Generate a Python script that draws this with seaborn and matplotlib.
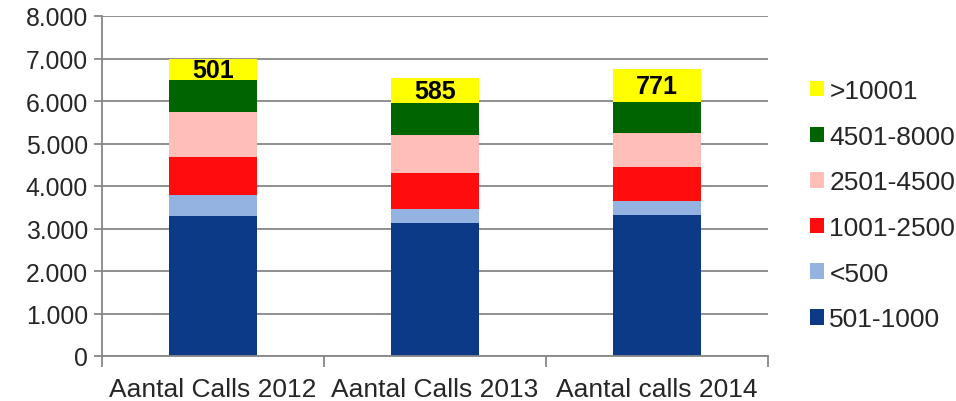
import matplotlib
matplotlib.use("Agg")
import matplotlib.pyplot as plt
import seaborn as sns
import pandas as pd
import numpy as np
from matplotlib.patches import Patch

categories = ["Aantal Calls 2012", "Aantal Calls 2013", "Aantal calls 2014"]
series_names = ["501-1000", "<500", "1001-2500", "2501-4500", "4501-8000", ">10001"]
v_501_1000 = [3295, 3120, 3325]
v_lt500 = [495, 340, 315]
v_1001_2500 = [890, 855, 815]
v_2501_4500 = [1050, 894, 792]
v_4501_8000 = [760, 737, 729]
v_gt10001 = [501, 585, 771]
yticks = [0, 1000, 2000, 3000, 4000, 5000, 6000, 7000, 8000]
ytick_labels = ["0", "1.000", "2.000", "3.000", "4.000", "5.000", "6.000", "7.000", "8.000"]

colors = ["#0d3a87", "#95b3e0", "#ff0d0d", "#ffbfb8", "#006400", "#ffff00"]

series_values = [v_501_1000, v_lt500, v_1001_2500, v_2501_4500, v_4501_8000, v_gt10001]

sns.set_style("white")
plt.rcParams["font.family"] = ["Liberation Sans", "DejaVu Sans"]

fig = plt.figure(figsize=(9.56, 4.02), dpi=100)
ax = fig.add_axes([102 / 956, 1 - 357 / 402, (768 - 102) / 956, (357 - 17) / 402])

cum = np.cumsum(np.array(series_values), axis=0)
rows = []
for i, name in enumerate(series_names):
    for j, cat in enumerate(categories):
        rows.append({"category": cat, "series": name, "top": cum[i, j]})
df = pd.DataFrame(rows)

for i in reversed(range(len(series_names))):
    sub = df[df["series"] == series_names[i]]
    sns.barplot(data=sub, x="category", y="top", order=categories, color=colors[i],
                width=0.4, saturation=1, ax=ax, zorder=3, edgecolor="none", linewidth=0)

# labels on top segment
for j, cat in enumerate(categories):
    bottom = cum[-2, j]
    top = cum[-1, j]
    ax.text(j, (bottom + top) / 2, str(v_gt10001[j]), ha="center", va="center",
            fontsize=18, fontweight="bold", color="black", zorder=5)

ax.set_ylim(0, 8000)
ax.set_xlim(-0.5, 2.5)
ax.set_yticks(yticks)
ax.set_yticklabels(ytick_labels, fontsize=17.8)
ax.set_xticks([0, 1, 2])
ax.set_xticklabels(categories, fontsize=19)
ax.set_xlabel("")
ax.set_ylabel("")
ax.grid(axis="y", color="#878787", linewidth=1.3, zorder=0)
ax.set_axisbelow(True)
for s in ["top", "right"]:
    ax.spines[s].set_visible(False)
for s in ["left", "bottom"]:
    ax.spines[s].set_color("#878787")
    ax.spines[s].set_linewidth(1.3)
    ax.spines[s].set_zorder(4)
ax.tick_params(axis="y", which="major", length=6, width=1.3, color="#878787", direction="out", pad=4, left=True)
ax.tick_params(axis="x", which="major", length=0, pad=15, bottom=False)
ax.set_xticks([-0.5, 0.5, 1.5, 2.5], minor=True)
ax.tick_params(axis="x", which="minor", length=8, width=1.3, color="#878787", direction="out", bottom=True)

handles = [Patch(facecolor=colors[i], edgecolor="none", label=series_names[i]) for i in reversed(range(len(series_names)))]
leg = fig.legend(handles=handles, loc="upper left", bbox_to_anchor=(810 / 956, 1 - 80 / 402),
                 frameon=False, fontsize=19, handlelength=0.53, handleheight=0.53,
                 handletextpad=0.2, labelspacing=0.82, borderpad=0, borderaxespad=0)

fig.savefig("out.png", dpi=100)
